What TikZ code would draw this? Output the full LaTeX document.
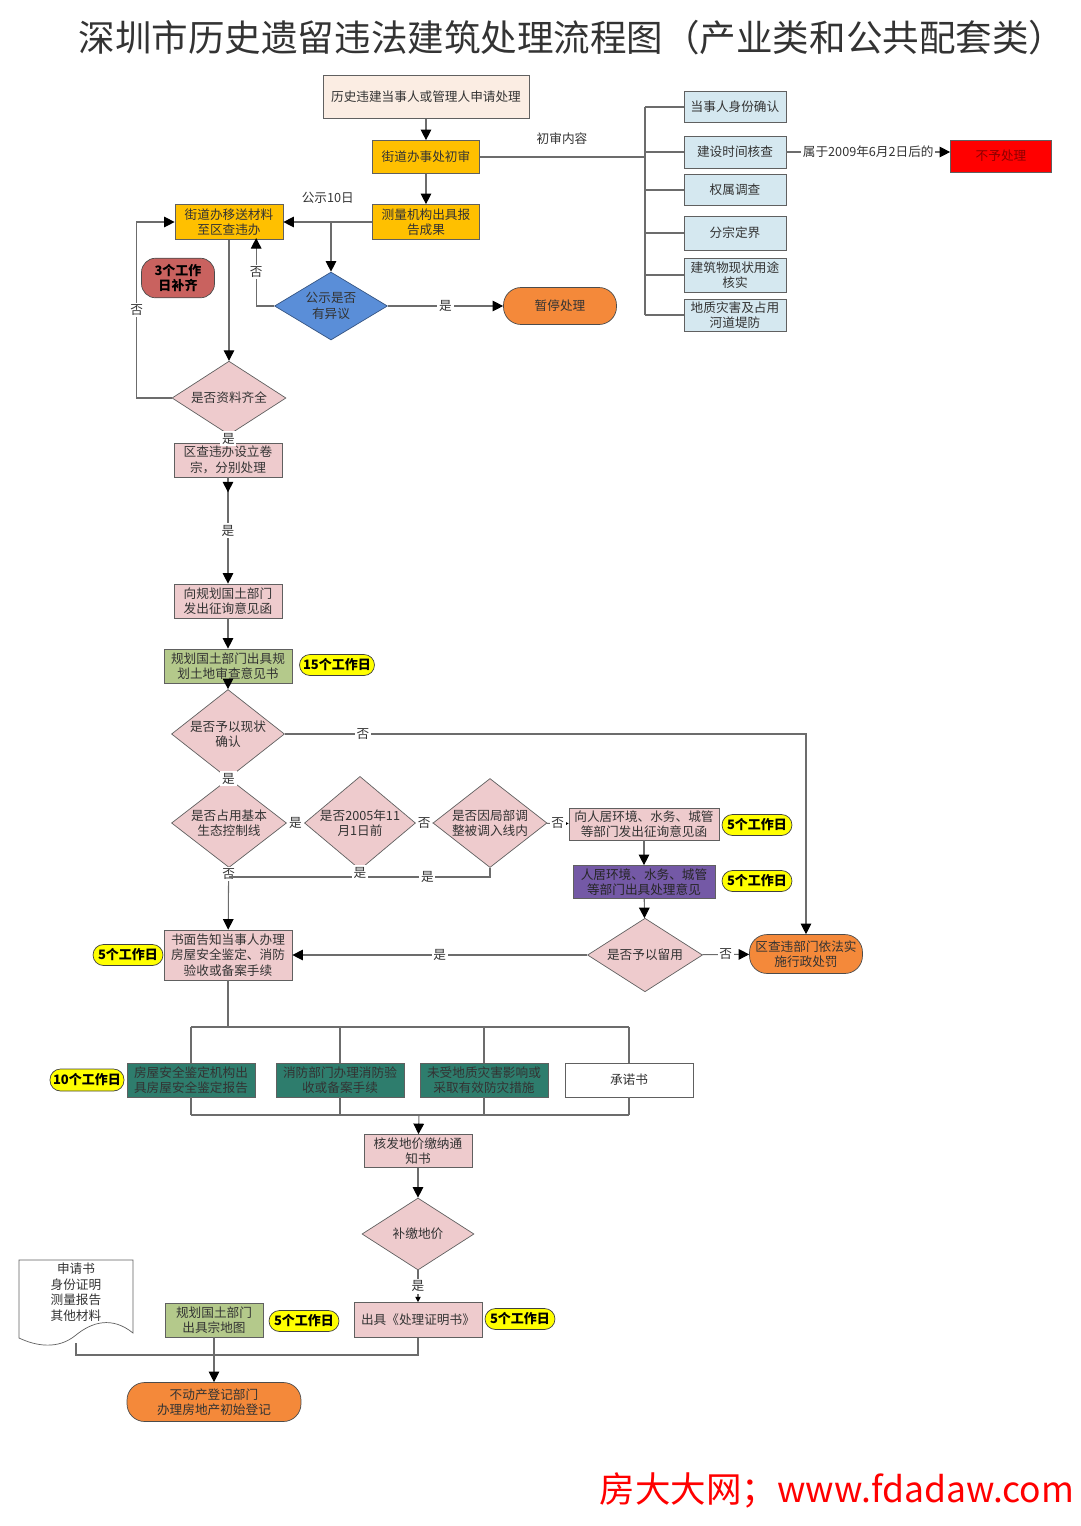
\documentclass[tikz,border=0pt]{standalone}
\usepackage{fontspec}
\setmainfont{Noto Sans CJK SC}
\usetikzlibrary{shapes.geometric,arrows.meta,decorations.markings}

\definecolor{qianfen}{HTML}{FBEDE3}
\definecolor{jinhuang}{HTML}{FFC000}
\definecolor{lanse}{HTML}{5A8ED8}
\definecolor{chengse}{HTML}{F4893A}
\definecolor{hongzong}{HTML}{C9625F}
\definecolor{fenhong}{HTML}{EECBCD}
\definecolor{caolv}{HTML}{B4C98B}
\definecolor{zise}{HTML}{7459A6}
\definecolor{qinglv}{HTML}{2E7D6D}
\definecolor{qianlan}{HTML}{D5E8F0}
\definecolor{xianhong}{HTML}{FF0000}
\definecolor{huang}{HTML}{FFFF00}

\begin{document}
\begin{tikzpicture}[x=0.02cm,y=-0.02cm,
	every node/.style={font=\fontsize{7.2}{8.8}\selectfont, align=center, text=black!80},
	box/.style={draw=gray!75!black, rectangle, inner sep=1pt, minimum width=2.16cm, minimum height=0.68cm},
	panduan/.style={draw=gray!75!black, diamond, inner sep=-2pt, fill=fenhong, minimum width=2.28cm, minimum height=1.44cm},
	yuan/.style={draw=black!70, rounded corners=10pt, fill=chengse, minimum width=2.26cm, minimum height=0.74cm},
	tianshu/.style={draw=black!75, rounded corners=6pt, fill=huang, font=\fontsize{7.4}{8.8}\selectfont\bfseries, text=black, minimum width=1.4cm, minimum height=0.42cm, inner sep=1pt},
	line/.style={draw=gray!85!black, line width=0.6pt},
	flow/.style={line, -{Triangle[length=6pt,width=6pt,color=black]}},
	flowsmall/.style={line, -{Triangle[length=3pt,width=3pt,color=black]}},
	lbl/.style={fill=white, inner sep=1pt}
	]
	
	\useasboundingbox (0,0) rectangle (1080,1526);
	
	\node (title) at (572,38) {\fontsize{20.8}{24}\selectfont 深圳市历史遗留违法建筑处理流程图（产业类和公共配套类）};
	
	% top part
	\node[box, fill=qianfen, minimum width=4.12cm, minimum height=0.86cm] (apply) at (426,97) {历史违建当事人或管理人申请处理};
	\node[box, fill=jinhuang, minimum width=2.14cm, minimum height=0.66cm] (chushen) at (426,157) {街道办事处初审};
	\node[box, fill=jinhuang, minimum width=2.14cm, minimum height=0.7cm] (celiang) at (426,222) {测量机构出具报\\告成果};
	\node[box, fill=jinhuang, minimum height=0.7cm] (yisong) at (229,222) {街道办移送材料\\至区查违办};
	\node[panduan, fill=lanse, draw=lanse!60!black, minimum width=2.26cm, minimum height=1.36cm] (gongshi) at (331,306) {公示是否\\有异议};
	\node[yuan] (zanting) at (560,306) {暂停处理};
	\node[yuan, fill=hongzong, minimum width=1.46cm, minimum height=0.62cm, rounded corners=8pt, font=\fontsize{7.4}{8.8}\selectfont\bfseries, text=black] (buqi) at (178,278) {3个工作\\日补齐};
	\node[panduan] (ziliao) at (229,398) {是否资料齐全};
	\node[box, fill=fenhong] (lijuan) at (228,460) {区查违办设立卷\\宗，分别处理};
	
	% right column
	\node (neirong) at (562,139) {初审内容};
	\coordinate (kuo) at (645,157);
	\node[box, fill=qianlan, minimum width=2.04cm, minimum height=0.62cm] (shenfen) at (735,107) {当事人身份确认};
	\node[box, fill=qianlan, minimum width=2.04cm, minimum height=0.64cm] (shijian) at (735,152) {建设时间核查};
	\node[box, fill=qianlan, minimum width=2.04cm, minimum height=0.62cm] (quanshu) at (735,190) {权属调查};
	\node[box, fill=qianlan, minimum width=2.04cm, minimum height=0.68cm] (fenzong) at (735,233) {分宗定界};
	\node[box, fill=qianlan, minimum width=2.04cm, minimum height=0.68cm] (yongtu) at (735,275) {建筑物现状用途\\核实};
	\node[box, fill=qianlan, minimum width=2.04cm, minimum height=0.64cm] (dizai) at (735,315) {地质灾害及占用\\河道堤防};
	\node[box, fill=xianhong, text=red!55!black, minimum width=2.02cm, minimum height=0.64cm] (buyu) at (1001,156) {不予处理};
	
	% middle part
	\node[box, fill=fenhong] (xiang) at (228,601) {向规划国土部门\\发出征询意见函};
	\node[box, fill=caolv, minimum width=2.56cm] (guihua) at (228,666) {规划国土部门出具规\\划土地审查意见书};
	\node[tianshu, minimum width=1.5cm] (t15) at (337,665) {15个工作日};
	\node[panduan, minimum width=2.26cm, minimum height=1.36cm] (xianzhuang) at (228,734) {是否予以现状\\确认};
	\node[panduan, minimum width=2.3cm, minimum height=1.5cm] (shengtai) at (229,823) {是否占用基本\\生态控制线};
	\node[panduan, minimum width=2.22cm, minimum height=1.5cm] (d2005) at (360,823) {是否2005年11\\月1日前};
	\node[panduan, minimum width=2.28cm, minimum height=1.5cm] (tiaozheng) at (490,823) {是否因局部调\\整被调入线内};
	\node[box, fill=fenhong, minimum width=3cm, minimum height=0.64cm] (renju) at (644,824) {向人居环境、水务、城管\\等部门发出征询意见函};
	\node[tianshu] (t5a) at (757,825) {5个工作日};
	\node[box, fill=zise, text=black!85, minimum width=2.84cm, minimum height=0.66cm] (renju2) at (644,882) {人居环境、水务、城管\\等部门出具处理意见};
	\node[tianshu] (t5b) at (757,881) {5个工作日};
	\node[panduan, minimum width=2.3cm, minimum height=1.4cm] (liuyong) at (645,955) {是否予以留用};
	\node[yuan, minimum width=2.24cm] (chufa) at (806,954) {区查违部门依法实\\施行政处罚};
	\node[box, fill=fenhong, minimum width=2.56cm, minimum height=1cm] (shumian) at (228,955) {书面告知当事人办理\\房屋安全鉴定、消防\\验收或备案手续};
	\node[tianshu] (t5c) at (128,955) {5个工作日};
	
	% four parallel items
	\coordinate (fen) at (228,1027);
	\coordinate (he) at (419,1115);
	\node[box, fill=qinglv, minimum width=2.56cm] (fangwu) at (191,1080) {房屋安全鉴定机构出\\具房屋安全鉴定报告};
	\node[box, fill=qinglv, minimum width=2.56cm] (xiaofang) at (340,1080) {消防部门办理消防验\\收或备案手续};
	\node[box, fill=qinglv, minimum width=2.56cm] (fangzai) at (484,1080) {未受地质灾害影响或\\采取有效防灾措施};
	\node[box, fill=white, minimum width=2.56cm] (chengnuo) at (629,1080) {承诺书};
	\node[tianshu, minimum width=1.48cm, minimum height=0.44cm] (t10) at (87,1080) {10个工作日};
	
	% bottom part
	\node[box, fill=fenhong, minimum height=0.66cm] (hefa) at (418,1151) {核发地价缴纳通\\知书};
	\node[panduan, minimum width=2.24cm] (bujiao) at (418,1234) {补缴地价};
	\node[box, fill=fenhong, minimum width=2.56cm, minimum height=0.7cm] (chuju) at (418,1320) {出具《处理证明书》};
	\node[tianshu] (t5d) at (520,1319) {5个工作日};
	\node[box, fill=caolv, minimum width=1.96cm] (guihua2) at (214,1320) {规划国土部门\\出具宗地图};
	\node[tianshu] (t5e) at (304,1321) {5个工作日};
	\draw[draw=gray!75!black, fill=white] (19,1260) -- (133,1260) -- (133,1333) .. controls (112,1316) and (92,1322) .. (76,1335) .. controls (58,1350) and (36,1346) .. (19,1338) -- cycle;
	\node (cailiao) at (76,1292) {申请书\\身份证明\\测量报告\\其他材料};
	\coordinate (docb) at (76,1343);
	\coordinate (jiao) at (418,1355);
	\node[yuan, minimum width=3.48cm, minimum height=0.7cm] (budongchan) at (214,1402) {不动产登记部门\\办理房地产初始登记};
	
	\node (shuiyin) at (837,1490) {\fontsize{20.2}{24}\selectfont\color{xianhong}房大大网；www.fdadaw.com};
	
	% connectors
	\draw[flow] (apply) -- (chushen);
	\draw[flow] (chushen) -- (celiang);
	\draw[line] (chushen.east) -- (kuo);
	\draw[line] (shenfen.west -| kuo) -- (dizai.west -| kuo);
	\foreach \n in {shenfen,shijian,quanshu,fenzong,yongtu,dizai}
	\draw[line] (\n.west -| kuo) -- (\n.west);
	\draw[flow] (shijian.east) -- node[lbl]{属于2009年6月2日后的} (shijian.east -| buyu.west);
	
	\draw[flow] (celiang) -- node[above=7pt]{公示10日} (yisong);
	\draw[flow] (gongshi.north |- celiang.west) -- (gongshi);
	\draw[flow] (gongshi.west) -- ++(-18,0) -- node[lbl]{否} ++(0,-68);
	\draw[flow] (gongshi) -- node[lbl]{是} (zanting);
	\draw[flow] (yisong) -- (ziliao);
	\draw[flow] (ziliao.west) -- ++(-35,0) |- node[lbl, pos=0.25]{否} (yisong.west);
	\draw[line] (ziliao) -- node[lbl]{是} (lijuan);
	\draw[flow, postaction={decorate}, decoration={markings, mark=at position 0.3cm with {\arrow{Triangle[length=6pt,width=6pt,color=black]}}}] (lijuan) -- node[lbl]{是} (xiang);
	\draw[flow] (xiang) -- (guihua);
	\draw[flow] (guihua) -- (xianzhuang);
	\draw[flow] (xianzhuang.east) -| node[lbl, pos=0.075]{否} (chufa.north);
	\draw[flowsmall] (xianzhuang) -- node[lbl]{是} (shengtai);
	\draw[flowsmall] (shengtai) -- node[lbl]{是} (d2005);
	\draw[flowsmall] (d2005) -- node[lbl]{否} (tiaozheng);
	\draw[flowsmall] (tiaozheng) -- node[lbl]{否} (renju);
	\draw[flow] (shengtai) -- node[lbl, pos=0.1]{否} (shumian);
	\draw[line] (tiaozheng.south) |- node[lbl, pos=0.62]{是} (shengtai.south |- 0,877);
	\draw[line] (d2005.south) -- node[lbl, pos=0.4]{是} (d2005.south |- 0,877);
	\draw[flow] (renju) -- (renju2);
	\draw[flow] (renju2) -- (liuyong);
	\draw[flow] (liuyong) -- node[lbl]{是} (shumian);
	\draw[flow] (liuyong) -- node[lbl]{否} (chufa);
	
	\draw[line] (shumian) -- (fen);
	\draw[line] (fangwu.north |- fen) -- (chengnuo.north |- fen);
	\draw[line] (fangwu.south |- he) -- (chengnuo.south |- he);
	\foreach \b in {fangwu,xiaofang,fangzai,chengnuo}{
		\draw[line] (\b.north |- fen) -- (\b.north);
		\draw[line] (\b.south) -- (\b.south |- he);
	}
	\draw[flow] (he) -- (hefa);
	\draw[flow] (hefa) -- (bujiao);
	\draw[flowsmall] (bujiao) -- node[lbl]{是} (chuju);
	\draw[line] (docb) |- (jiao) -- (chuju.south);
	\draw[flow] (guihua2) -- (budongchan);
	
\end{tikzpicture}
\end{document}
